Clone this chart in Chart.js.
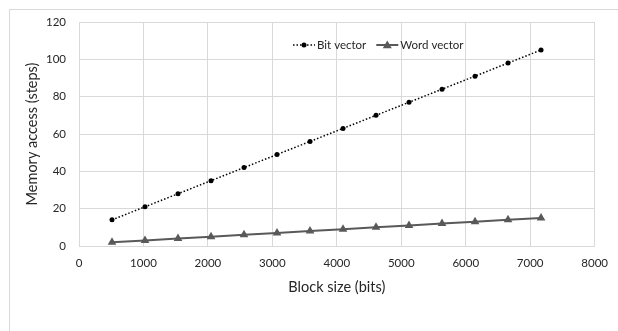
<!DOCTYPE html>
<html>
<head>
<meta charset="utf-8">
<script src="https://cdn.jsdelivr.net/npm/chart.js@4"></script>
<style>
  body { margin: 0; background: #fff; }
  #frame { position: absolute; left: 9px; top: 9px; width: 610px; height: 340px; border: 1px solid #d9d9d9; }
  #wrap { position: absolute; left: 0; top: 0; width: 618px; height: 331px; }
</style>
</head>
<body>
<div id="frame"></div>
<div id="wrap"><canvas id="chart" width="618" height="331"></canvas></div>
<script>
const blockSizes = [512, 1024, 1536, 2048, 2560, 3072, 3584, 4096, 4608, 5120, 5632, 6144, 6656, 7168];
const bitVector = [14, 21, 28, 35, 42, 49, 56, 63, 70, 77, 84, 91, 98, 105];
const wordVector = [2, 3, 4, 5, 6, 7, 8, 9, 10, 11, 12, 13, 14, 15];
const seriesNames = ["Bit vector", "Word vector"];

const FONT = "Lato, 'Liberation Sans', sans-serif";
const TEXT = "#262626";
const GRID = "#d9d9d9";

function points(ys) {
  return blockSizes.map(function (x, i) { return { x: x, y: ys[i] }; });
}

// legend drawn inside the plot, like the original
const insideLegend = {
  id: 'insideLegend',
  afterDraw: function (chart) {
    const ctx = chart.ctx;
    const area = chart.chartArea;
    const y = area.top + 23;
    let x = area.left + 214;
    ctx.save();
    ctx.font = "11.5px " + FONT;
    ctx.textBaseline = 'middle';
    chart.data.datasets.forEach(function (ds) {
      ctx.strokeStyle = ds.borderColor;
      ctx.lineWidth = ds.borderWidth;
      ctx.setLineDash(ds.borderDash || []);
      ctx.beginPath();
      ctx.moveTo(x, y);
      ctx.lineTo(x + 22, y);
      ctx.stroke();
      ctx.setLineDash([]);
      ctx.fillStyle = ds.pointBackgroundColor;
      ctx.beginPath();
      if (ds.pointStyle === 'triangle') {
        const r = 4.5;
        ctx.moveTo(x + 11, y - r);
        ctx.lineTo(x + 11 + r, y + r * 0.7);
        ctx.lineTo(x + 11 - r, y + r * 0.7);
        ctx.closePath();
      } else {
        ctx.arc(x + 11, y, 2.5, 0, Math.PI * 2);
      }
      ctx.fill();
      ctx.fillStyle = TEXT;
      ctx.fillText(ds.label, x + 24, y);
      x += 24 + ctx.measureText(ds.label).width + 10;
    });
    ctx.restore();
  }
};

const config = {
  type: 'line',
  data: {
    datasets: [{
      label: seriesNames[0],
      data: points(bitVector),
      borderColor: "#000000",
      borderWidth: 1.5,
      borderDash: [1.5, 2],
      pointStyle: 'circle',
      pointRadius: 2.5,
      pointBackgroundColor: "#000000",
      pointBorderWidth: 0,
      tension: 0
    }, {
      label: seriesNames[1],
      data: points(wordVector),
      borderColor: "#595959",
      borderWidth: 2,
      pointStyle: 'triangle',
      pointRadius: 5,
      pointBackgroundColor: "#595959",
      pointBorderColor: "#595959",
      pointBorderWidth: 0,
      tension: 0
    }]
  },
  options: {
    responsive: false,
    animation: false,
    layout: { padding: { left: 0, top: 22, right: 21, bottom: 0 } },
    scales: {
      x: {
        type: 'linear',
        min: 0,
        max: 8000,
        ticks: {
          stepSize: 1000, color: TEXT, font: { family: FONT, size: 11.5 }, padding: 10, maxRotation: 0,
          callback: function (v) { return String(v); }
        },
        grid: { color: GRID, drawTicks: false },
        border: { color: GRID },
        title: { display: true, text: "Block size (bits)", color: TEXT, font: { family: FONT, size: 14.5 }, padding: { top: 0, bottom: 35 } },
        afterFit: function (scale) { scale.height = 85; }
      },
      y: {
        min: 0,
        max: 120,
        ticks: { stepSize: 20, color: TEXT, font: { family: FONT, size: 11.5 }, padding: 13 },
        grid: { color: GRID, drawTicks: false },
        border: { color: GRID },
        title: { display: true, text: "Memory access (steps)", color: TEXT, font: { family: FONT, size: 14.5 }, padding: { top: 24, bottom: 0 } },
        afterFit: function (scale) { scale.width = 79; }
      }
    },
    plugins: {
      legend: { display: false },
      tooltip: { enabled: false }
    }
  },
  plugins: [insideLegend]
};

new Chart(document.getElementById("chart"), config);
</script>
</body>
</html>
